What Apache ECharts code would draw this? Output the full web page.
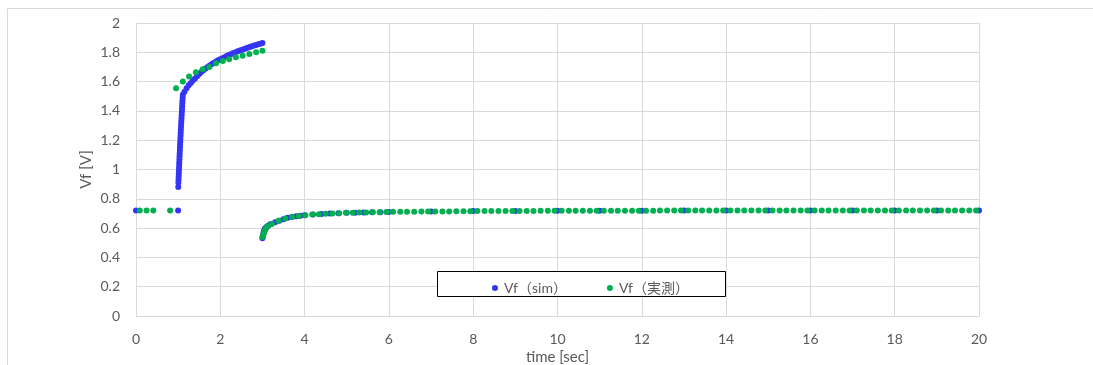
<!DOCTYPE html>
<html>
<head>
<meta charset="utf-8">
<script src="https://cdn.jsdelivr.net/npm/echarts@6/dist/echarts.min.js"></script>
<style>
  html, body { margin: 0; padding: 0; background: #fff; overflow: hidden; }
  #chart { width: 1093px; height: 365px; }
</style>
</head>
<body>
<div id="chart"></div>
<script>
// Forward voltage Vf over time: simulated vs measured
const seriesNames = ['Vf（sim）', 'Vf（実測）'];
const xTicks = [0, 2, 4, 6, 8, 10, 12, 14, 16, 18, 20];
const yTicks = [0, 0.2, 0.4, 0.6, 0.8, 1, 1.2, 1.4, 1.6, 1.8, 2];

// simulation: [time s, Vf V]
const simBefore = [[0, 0.72], [1.0, 0.72]];
const simRamp = [
  [1.003, 0.88], [1.006, 0.91], [1.009, 0.93], [1.012, 0.95], [1.015, 0.97], [1.018, 0.99],
  [1.021, 1.01], [1.024, 1.03], [1.027, 1.05], [1.030, 1.07], [1.033, 1.09], [1.036, 1.11],
  [1.040, 1.13], [1.043, 1.15], [1.046, 1.17], [1.050, 1.19], [1.053, 1.21], [1.057, 1.23],
  [1.060, 1.25], [1.064, 1.27], [1.067, 1.29], [1.071, 1.31], [1.075, 1.33], [1.079, 1.35],
  [1.083, 1.37], [1.087, 1.39], [1.091, 1.41], [1.095, 1.43], [1.099, 1.45], [1.103, 1.47],
  [1.107, 1.49], [1.111, 1.51]
];
const simHigh = [
  [1.15, 1.53], [1.20, 1.555], [1.25, 1.575], [1.30, 1.59], [1.35, 1.607], [1.40, 1.622],
  [1.45, 1.637], [1.50, 1.652], [1.55, 1.665], [1.60, 1.678], [1.65, 1.69], [1.70, 1.70],
  [1.75, 1.71], [1.80, 1.72], [1.85, 1.728], [1.90, 1.737], [1.95, 1.745], [2.00, 1.752],
  [2.05, 1.76], [2.10, 1.767], [2.15, 1.774], [2.20, 1.781], [2.25, 1.787], [2.30, 1.793],
  [2.35, 1.799], [2.40, 1.805], [2.45, 1.81], [2.50, 1.816], [2.55, 1.821], [2.60, 1.826],
  [2.65, 1.831], [2.70, 1.836], [2.75, 1.841], [2.80, 1.846], [2.85, 1.85], [2.90, 1.855],
  [2.95, 1.859], [3.00, 1.863]
];
const simAfter = [
  [3.00, 0.53], [3.01, 0.545], [3.02, 0.56], [3.03, 0.575], [3.05, 0.59], [3.07, 0.60],
  [3.10, 0.61], [3.15, 0.62], [3.20, 0.628], [3.30, 0.64], [3.40, 0.65], [3.50, 0.66],
  [3.60, 0.67], [3.70, 0.676], [3.80, 0.681], [3.90, 0.685], [4.00, 0.688], [4.20, 0.692],
  [4.40, 0.696], [4.60, 0.699], [4.80, 0.702], [5.00, 0.704], [5.20, 0.705], [5.40, 0.707],
  [5.60, 0.708], [5.80, 0.709], [6, 0.71], [7, 0.713], [8, 0.716], [9, 0.717], [10, 0.718],
  [11, 0.719], [12, 0.719], [13, 0.72], [14, 0.72], [15, 0.72], [16, 0.72], [17, 0.72],
  [18, 0.72], [19, 0.72], [20, 0.72]
];

// measurement: [time s, Vf V]
const measBefore = [[0.09, 0.72], [0.25, 0.72], [0.41, 0.72], [0.81, 0.72]];
const measHigh = [
  [0.95, 1.554], [1.11, 1.60], [1.26, 1.634], [1.42, 1.663], [1.58, 1.684], [1.74, 1.70],
  [1.90, 1.725], [2.06, 1.74], [2.21, 1.752], [2.37, 1.766], [2.53, 1.777], [2.69, 1.788],
  [2.85, 1.80], [3.00, 1.81]
];
const measAfter = [
  [3.00, 0.54], [3.02, 0.555], [3.04, 0.57], [3.06, 0.585], [3.09, 0.60], [3.12, 0.612],
  [3.22, 0.628], [3.38, 0.65], [3.54, 0.665], [3.70, 0.676], [3.86, 0.683], [4.02, 0.688],
  [4.18, 0.692], [4.34, 0.695], [4.50, 0.698], [4.66, 0.70], [4.82, 0.702], [4.98, 0.704],
  [5.14, 0.705], [5.30, 0.706], [5.46, 0.707], [5.62, 0.708], [5.78, 0.709], [5.94, 0.71],
  [6.10, 0.711], [6.27, 0.711], [6.43, 0.712], [6.60, 0.712], [6.77, 0.713], [6.93, 0.713],
  [7.10, 0.714], [7.27, 0.714], [7.43, 0.714], [7.60, 0.715], [7.77, 0.715], [7.93, 0.715],
  [8.10, 0.716], [8.27, 0.716], [8.43, 0.716], [8.60, 0.716], [8.77, 0.717], [8.93, 0.717],
  [9.10, 0.717], [9.27, 0.717], [9.43, 0.717], [9.60, 0.718], [9.77, 0.718], [9.93, 0.718],
  [10.10, 0.718], [10.27, 0.718], [10.43, 0.718], [10.60, 0.718], [10.77, 0.719], [10.93, 0.719],
  [11.10, 0.719], [11.27, 0.719], [11.43, 0.719], [11.60, 0.719], [11.77, 0.719], [11.93, 0.719],
  [12.10, 0.719], [12.27, 0.719], [12.43, 0.72], [12.60, 0.72], [12.77, 0.72], [12.93, 0.72],
  [13.10, 0.72], [13.27, 0.72], [13.43, 0.72], [13.60, 0.72], [13.77, 0.72], [13.93, 0.72],
  [14.10, 0.72], [14.27, 0.72], [14.43, 0.72], [14.60, 0.72], [14.77, 0.72], [14.93, 0.72],
  [15.10, 0.72], [15.27, 0.72], [15.43, 0.72], [15.60, 0.72], [15.77, 0.72], [15.93, 0.72],
  [16.10, 0.72], [16.27, 0.72], [16.43, 0.72], [16.60, 0.72], [16.77, 0.72], [16.93, 0.72],
  [17.10, 0.72], [17.27, 0.72], [17.43, 0.72], [17.60, 0.72], [17.77, 0.72], [17.93, 0.72],
  [18.10, 0.72], [18.27, 0.72], [18.43, 0.72], [18.60, 0.72], [18.77, 0.72], [18.93, 0.72],
  [19.10, 0.72], [19.27, 0.72], [19.43, 0.72], [19.60, 0.72], [19.77, 0.72], [19.93, 0.72]
];

const simData = simBefore.concat(simRamp, simHigh, simAfter);
const measData = measBefore.concat(measHigh, measAfter);

const FONT = 'Lato, "Noto Sans CJK JP", sans-serif';
const TEXT = '#595959';

const chart = echarts.init(document.getElementById('chart'), null, { renderer: 'canvas', width: 1093, height: 365 });
chart.setOption({
  animation: false,
  backgroundColor: '#ffffff',
  textStyle: { fontFamily: FONT },
  grid: { left: 136, width: 843, top: 23, height: 293, containLabel: false, outerBoundsMode: 'none' },
  graphic: [
    {
      type: 'rect', z: -10, silent: true,
      shape: { x: 7.5, y: 8.5, width: 1200, height: 500 },
      style: { fill: 'none', stroke: '#d9d9d9', lineWidth: 1 }
    },
    {
      type: 'rect', z: 10, silent: true,
      shape: { x: 437.5, y: 271.5, width: 288, height: 25 },
      style: { fill: '#ffffff', stroke: '#000000', lineWidth: 1 }
    }
  ],
  legend: {
    data: seriesNames,
    left: 487, top: 276,
    z: 20,
    icon: 'circle',
    itemWidth: 6, itemHeight: 6,
    itemGap: 40,
    textStyle: { color: TEXT, fontSize: 14, fontFamily: FONT, padding: [0, 0, 0, 1] }
  },
  xAxis: {
    type: 'value',
    min: 0, max: 20, interval: 2,
    name: 'time [sec]',
    nameLocation: 'middle',
    nameGap: 34,
    nameMoveOverlap: false,
    nameTextStyle: { color: TEXT, fontSize: 15, fontFamily: FONT },
    axisLine: { show: true, lineStyle: { color: '#d9d9d9' } },
    axisTick: { show: false },
    axisLabel: {
      color: TEXT, fontSize: 14, fontFamily: FONT, margin: 16,
      customValues: xTicks
    },
    splitLine: { show: true, lineStyle: { color: '#d9d9d9', width: 1 } }
  },
  yAxis: {
    type: 'value',
    min: 0, max: 2, interval: 0.2,
    name: 'Vf [V]',
    nameLocation: 'middle',
    nameGap: 42,
    nameMoveOverlap: false,
    nameRotate: 90,
    nameTextStyle: { color: TEXT, fontSize: 15, fontFamily: FONT },
    axisLine: { show: true, lineStyle: { color: '#d9d9d9' } },
    axisTick: { show: false },
    axisLabel: {
      color: TEXT, fontSize: 14, fontFamily: FONT, margin: 16,
      formatter: function (v) {
        const t = yTicks.find(function (y) { return Math.abs(y - v) < 1e-9; });
        return t === undefined ? '' : String(t);
      }
    },
    splitLine: { show: true, lineStyle: { color: '#d9d9d9', width: 1 } }
  },
  series: [
    {
      name: seriesNames[0],
      type: 'scatter',
      data: simData,
      symbol: 'circle',
      symbolSize: 6,
      itemStyle: { color: '#3535f5', opacity: 1 },
      z: 2
    },
    {
      name: seriesNames[1],
      type: 'scatter',
      data: measData,
      symbol: 'circle',
      symbolSize: 6,
      itemStyle: { color: '#00b050', opacity: 1 },
      z: 3
    }
  ]
});
</script>
</body>
</html>
